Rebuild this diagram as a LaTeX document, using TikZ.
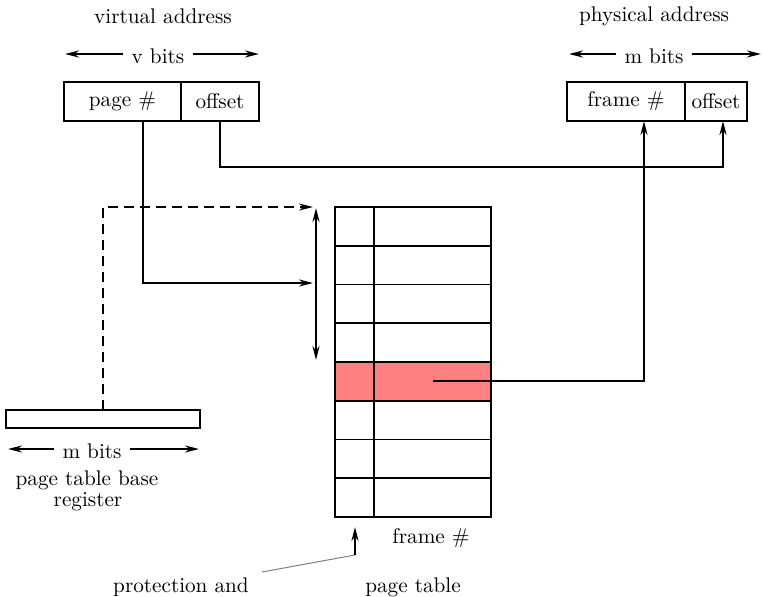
\documentclass[tikz,border=0pt]{standalone}
\usetikzlibrary{arrows.meta}
\definecolor{hl}{RGB}{255,128,128}
\begin{document}
\begin{tikzpicture}[x=0.5pt,y=-0.5pt,line width=0.95pt,
  lbl/.style={font=\fontsize{10.6}{12}\selectfont,inner sep=0pt},
  cell/.style={draw,inner sep=0pt,outer sep=0pt,font=\fontsize{10.6}{12}\selectfont},
  arr/.style={-{Stealth[length=7pt,width=3.5pt]}},
  darr/.style={{Stealth[length=7pt,width=3.5pt]}-{Stealth[length=7pt,width=3.5pt]}}]
\useasboundingbox (0,0) rectangle (762,596);

% virtual address
\node[lbl] (vtitle) at (163,16) {virtual address};
\node[lbl] (vbits) at (158,56) {v bits};
\coordinate (vl) at (65,54);
\coordinate (vr) at (259,54);
\draw[arr] ([xshift=-4pt,yshift=1pt]vbits.west) -- (vl);
\draw[arr] ([xshift=4pt,yshift=1pt]vbits.east) -- (vr);
\node[cell,minimum width=58.5pt,minimum height=19.5pt] (vpage) at (122.5,101.5) {page \#};
\node[cell,minimum width=39pt,minimum height=19.5pt] (voff) at (220,101.5) {offset};

% physical address
\node[lbl] (ptitle) at (654,16) {physical address};
\node[lbl] (pbits) at (654,56) {m bits};
\coordinate (pl) at (569,54);
\coordinate (pr) at (761,54);
\draw[arr] ([xshift=-4pt,yshift=1pt]pbits.west) -- (pl);
\draw[arr] ([xshift=4pt,yshift=1pt]pbits.east) -- (pr);
\node[cell,minimum width=59pt,minimum height=19.5pt] (pframe) at (626,101.5) {frame \#};
\node[cell,minimum width=31pt,minimum height=19.5pt] (poff) at (716,101.5) {offset};

% page table
\foreach \i/\f in {1/white,2/white,3/white,4/white,5/hl,6/white,7/white,8/white}{
  \node[cell,fill=\f,minimum width=19.5pt,minimum height=19.375pt] (p\i) at (354.5,{207+38.75*(\i-0.5)}) {};
  \node[cell,fill=\f,minimum width=58.5pt,minimum height=19.375pt] (f\i) at (432.5,{207+38.75*(\i-0.5)}) {};
}
\node[lbl] (ftitle) at (431,538) {frame \#};
\node[lbl,anchor=base] (ttitle) at (413,592) {page table};

% page table base register
\node[cell,minimum width=97pt,minimum height=9pt] (reg) at (103,419) {};
\node[lbl] (rbits) at (92,451) {m bits};
\coordinate (rl) at (8,449);
\coordinate (rr) at (199,449);
\draw[arr] ([xshift=-4pt,yshift=1pt]rbits.west) -- (rl);
\draw[arr] ([xshift=4pt,yshift=1pt]rbits.east) -- (rr);
\node[lbl,anchor=base] (rtitle) at (87,485) {page table base};
\node[lbl,anchor=base] (rtitle2) at (88,506) {register};

% connectors
\coordinate (dtip) at (313,207);
\draw[arr,dashed,dash pattern=on 5pt off 3pt] (reg.north) |- (dtip);
\coordinate (ptip) at (313,283);
\draw[arr] ([xshift=10.25pt]vpage.south) |- (ptip);
\coordinate (ra) at (316,208);
\coordinate (rb) at (316,360);
\draw[darr] (ra) -- (rb);
\coordinate (offrun) at (400,167);
\draw[arr] (voff.south) |- (offrun) -| ([xshift=3.5pt]poff.south);
\draw[arr] (f5.center) -| ([xshift=9pt]pframe.south);

% protection pointer
\node[lbl,anchor=base] (prot) at (181,592) {protection and};
\coordinate (pa) at (262,572);
\coordinate (pb) at (355,555);
\coordinate (pt) at (355,527);
\draw[gray,line width=0.5pt] (pa) -- (pb);
\draw[arr] (pb) -- (pt);
\end{tikzpicture}
\end{document}
